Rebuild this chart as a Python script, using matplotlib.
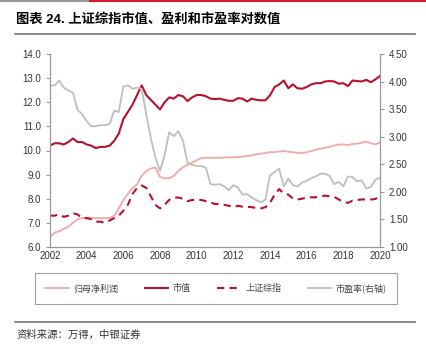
import numpy as np
import matplotlib
matplotlib.use("Agg")
import matplotlib.pyplot as plt
from matplotlib.lines import Line2D

plt.rcParams['font.family'] = ['Liberation Sans', 'Noto Sans CJK SC', 'DejaVu Sans']

# quarterly, 2002Q1 .. 2020Q1
years = np.arange(73) / 4.0 + 2002

# log market value (left axis)
mkt_value = [10.2, 10.3, 10.3, 10.25,
             10.35, 10.5, 10.35, 10.35,
             10.25, 10.2, 10.1, 10.15,
             10.15, 10.2, 10.4, 10.7,
             11.3, 11.6, 11.9, 12.3,
             12.7, 12.3, 12.1, 11.9,
             11.7, 12.0, 12.2, 12.15,
             12.3, 12.25, 12.05, 12.2,
             12.3, 12.3, 12.25, 12.15,
             12.13, 12.15, 12.1, 12.06,
             12.06, 12.17, 12.15, 12.03,
             12.15, 12.1, 12.08, 12.08,
             12.29, 12.63, 12.74, 12.90,
             12.58, 12.74, 12.58, 12.56,
             12.63, 12.74, 12.79, 12.79,
             12.86, 12.88, 12.86, 12.77,
             12.79, 12.67, 12.90, 12.88,
             12.86, 12.93, 12.83, 12.95,
             13.09]

# log net profit attributable to parent (left axis)
net_profit = [6.4, 6.6, 6.65, 6.75,
              6.85, 7.0, 7.15, 7.2,
              7.2, 7.2, 7.2, 7.2,
              7.2, 7.2, 7.3, 7.6,
              7.95, 8.2, 8.45, 8.6,
              8.95, 9.15, 9.25, 9.3,
              8.9, 8.85, 8.85, 8.95,
              9.15, 9.3, 9.4, 9.5,
              9.6, 9.68, 9.7, 9.7,
              9.7, 9.7, 9.71, 9.71,
              9.72, 9.73, 9.75, 9.77,
              9.8, 9.84, 9.87, 9.9,
              9.93, 9.93, 9.96, 9.98,
              9.95, 9.93, 9.91, 9.89,
              9.93, 9.98, 10.03, 10.07,
              10.11, 10.15, 10.2, 10.25,
              10.25, 10.23, 10.27, 10.28,
              10.32, 10.37, 10.3, 10.25,
              10.34]

# log SSE composite index (left axis)
sse_index = [7.3, 7.3, 7.35, 7.25,
             7.3, 7.4, 7.35, 7.2,
             7.2, 7.15, 7.05, 7.05,
             7.0, 7.1, 7.2, 7.3,
             7.5, 7.75, 8.2, 8.45,
             8.55, 8.45, 8.1, 7.75,
             7.6, 7.75, 7.95, 8.05,
             8.05, 8.0, 7.9, 7.95,
             7.95, 7.95, 7.9, 7.85,
             7.78, 7.78, 7.75, 7.71,
             7.65, 7.71, 7.67, 7.67,
             7.65, 7.62, 7.60, 7.65,
             7.83, 8.17, 8.40, 8.22,
             8.17, 8.01, 7.97, 8.0,
             8.06, 8.06, 8.06, 8.1,
             8.13, 8.1, 8.08, 7.97,
             7.87, 7.83, 7.92, 7.95,
             7.97, 7.97, 7.97, 7.99,
             8.13]

# log P/E (right axis)
pe_ratio = [3.93, 3.93, 4.02, 3.89,
            3.84, 3.80, 3.49, 3.41,
            3.28, 3.19, 3.19, 3.21,
            3.21, 3.23, 3.47, 3.45,
            3.91, 3.93, 3.87, 3.89,
            3.87, 3.41, 2.97, 2.62,
            2.38, 2.66, 3.08, 3.01,
            3.10, 2.93, 2.53, 2.49,
            2.47, 2.47, 2.44, 2.14,
            2.13, 2.14, 2.10, 2.03,
            2.12, 2.08, 1.95, 1.96,
            1.90, 1.85, 1.81, 1.86,
            2.30, 2.36, 2.42, 2.10,
            2.24, 2.12, 2.10, 2.17,
            2.20, 2.25, 2.28, 2.33,
            2.33, 2.29, 2.14, 2.18,
            2.10, 2.28, 2.27, 2.19,
            2.21, 2.06, 2.09, 2.22,
            2.26]

labels = ['归母净利润', '市值', '上证综指', '市盈率(右轴)']
red = '#B8102E'
pink = '#F2A8A6'
grey = '#BEBEBE'
spine_c = '#999999'

fig = plt.figure(figsize=(4.26, 3.54), dpi=100)
ax1 = fig.add_axes([50/426, 1-247/354, 330/426, 193/354])
ax2 = ax1.twinx()

l1, = ax1.plot(years, net_profit, color=pink, lw=1.3)
l2, = ax1.plot(years, mkt_value, color=red, lw=1.5)
l3, = ax1.plot(years, sse_index, color=red, lw=1.5, ls=(0, (3.5, 2.5)))
l4, = ax2.plot(years, pe_ratio, color=grey, lw=1.3)

ax1.set_xlim(2002, 2020)
ax1.set_ylim(6, 14)
ax2.set_ylim(1, 4.5)
ax1.set_xticks(np.arange(2002, 2021, 2))
ax1.set_yticks(np.arange(6, 14.1, 1))
ax1.set_yticklabels([f'{v:.1f}' for v in np.arange(6, 14.1, 1)])
ax2.set_yticks(np.arange(1, 4.51, 0.5))
ax2.set_yticklabels([f'{v:.2f}' for v in np.arange(1, 4.51, 0.5)])

for ax in (ax1, ax2):
    ax.spines['top'].set_visible(False)
    for s in ('left', 'right', 'bottom'):
        ax.spines[s].set_color(spine_c)
    ax.tick_params(labelsize=7, colors='#333333', length=3, width=0.8)
    ax.tick_params(axis='both', color=spine_c)
ax1.tick_params(axis='x', length=0, pad=3)

# decorations
fig.add_artist(Line2D([0, 90/426], [1-1/354, 1-1/354], color='#999999', lw=1.5))
fig.add_artist(Line2D([90/426, 1], [1-1/354, 1-1/354], color='#D7192C', lw=1.5))
fig.text(16/426, 1-20/354, '图表 24. 上证综指市值、盈利和市盈率对数值', fontsize=9.5,
         fontweight='bold', va='center', ha='left',
         family=['Liberation Sans', 'Noto Sans CJK SC'])
fig.add_artist(Line2D([15/426, 415/426], [1-34/354, 1-34/354], color='#777777', lw=1.2))
fig.add_artist(Line2D([15/426, 415/426], [1-322/354, 1-322/354], color='#777777', lw=1.2))
fig.text(17/426, 1-335/354, '资料来源：万得，中银证券', fontsize=7.5, va='center', ha='left',
         color='#333333', style='italic', family=['Noto Sans CJK SC'])

leg = fig.legend([l1, l2, l3, l4], labels, loc='center', ncol=4,
                 bbox_to_anchor=(40/426, 1-310/354, 352/426, 43/354), mode='expand',
                 frameon=True, fancybox=False, handlelength=2.6, handletextpad=0.5,
                 prop={'family': ['Noto Sans CJK SC'], 'size': 6.5},
                 borderpad=1.2, labelcolor='#444444')
leg.get_frame().set_edgecolor('#888888')
leg.get_frame().set_linewidth(0.8)
# widen the frame back to the full box while the entries keep the inset
leg.set_bbox_to_anchor((30/426, 1-310/354, 372/426, 43/354))
leg._loc = 10
leg.get_frame().set_boxstyle('square', pad=0)

fig.savefig('out.png', dpi=100)
